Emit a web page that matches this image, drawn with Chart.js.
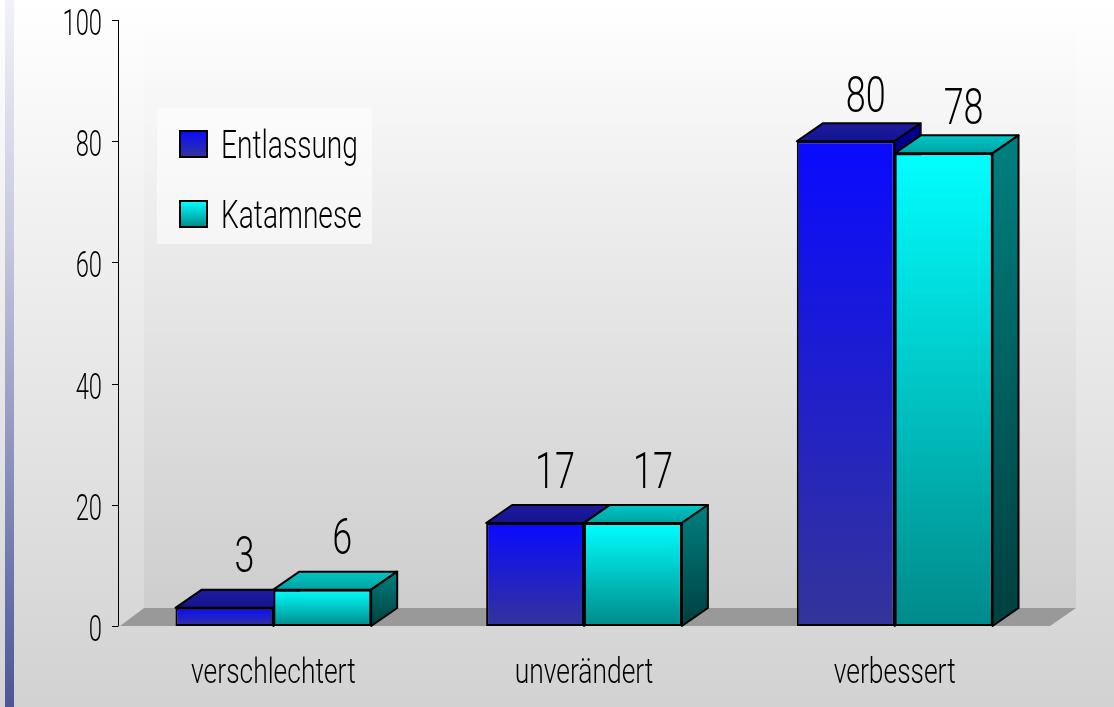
<!DOCTYPE html>
<html>
<head>
<meta charset="utf-8">
<script src="https://cdn.jsdelivr.net/npm/chart.js@4.4.1/dist/chart.umd.min.js"></script>
<style>
  html, body { margin: 0; padding: 0; background: #fff; }
  #chart { display: block; }
</style>
</head>
<body>
<canvas id="chart" width="1114" height="707"></canvas>
<script>
// Chart data
const categories = ['verschlechtert', 'unverändert', 'verbessert'];
const seriesNames = ['Entlassung', 'Katamnese'];
const entlassung = [3, 17, 80];
const katamnese = [6, 17, 78];
const yTicks = [0, 20, 40, 60, 80, 100];

// 3D depth offset of the boxes
const DX = 26, DY = -18;
const FONT = 'Roboto';

// colours per series: front top/bottom, top face, side top/bottom
const palette = [
    { front: ['#0a0aff', '#34349a'], top: ['#1c1c9e', '#141490'], side: ['#00008c', '#000060'] },
    { front: ['#00ffff', '#008a8a'], top: ['#00c6c6', '#00a2a2'], side: ['#008080', '#003f3f'] }
];

// condensed text: the original uses a very narrow face
function drawText(ctx, s, x, y, size, align, sx) {
    ctx.save();
    ctx.font = '300 ' + size + 'px ' + FONT;
    ctx.translate(x, y);
    ctx.scale(sx, 1);
    ctx.textAlign = align;
    ctx.textBaseline = 'alphabetic';
    ctx.fillStyle = '#000';
    ctx.fillText(s, 0, 0);
    ctx.restore();
}

function poly(ctx, pts, fill) {
    ctx.beginPath();
    ctx.moveTo(pts[0][0], pts[0][1]);
    for (let i = 1; i < pts.length; i++) ctx.lineTo(pts[i][0], pts[i][1]);
    ctx.closePath();
    ctx.fillStyle = fill;
    ctx.fill();
}

function frontGradient(context) {
    const chart = context.chart;
    const p = palette[context.datasetIndex].front;
    if (!chart.chartArea) return p[0];
    const y = chart.scales.y;
    const top = y.getPixelForValue(context.raw);
    const base = y.getPixelForValue(0);
    const g = chart.ctx.createLinearGradient(0, top, 0, base);
    g.addColorStop(0, p[0]);
    g.addColorStop(1, p[1]);
    return g;
}

const chart3d = {
    id: 'chart3d',
    beforeDraw(chart) {
        const ctx = chart.ctx;
        const W = chart.width, H = chart.height;
        // page background
        let g = ctx.createLinearGradient(0, 0, 0, H);
        g.addColorStop(0, '#ffffff');
        g.addColorStop(1, '#d2d2d2');
        ctx.fillStyle = g;
        ctx.fillRect(0, 0, W, H);
        // left stripe
        g = ctx.createLinearGradient(0, 0, 0, H);
        g.addColorStop(0, '#f2f2f8');
        g.addColorStop(0.35, '#c4c6de');
        g.addColorStop(1, '#4a5696');
        ctx.fillStyle = g;
        ctx.fillRect(5, 0, 9, H);
    },
    beforeDatasetsDraw(chart) {
        const ctx = chart.ctx;
        const a = chart.chartArea;
        // back wall
        let g = ctx.createLinearGradient(0, a.top + DY, 0, a.bottom + DY);
        g.addColorStop(0, 'rgba(0,0,0,0)');
        g.addColorStop(1, 'rgba(0,0,0,0.05)');
        ctx.fillStyle = g;
        ctx.fillRect(a.left + DX, a.top + DY, a.right - a.left, a.bottom - a.top);
        // floor
        poly(ctx, [[a.left + 2, a.bottom], [a.right, a.bottom], [a.right + DX, a.bottom + DY], [a.left + DX, a.bottom + DY]], '#999999');

        // tops and sides of each box, fronts are drawn by Chart.js afterwards
        ctx.save();
        ctx.lineWidth = 2;
        ctx.lineJoin = 'round';
        ctx.strokeStyle = '#000';
        for (let j = 0; j < categories.length; j++) {
            for (let i = 0; i < chart.data.datasets.length; i++) {
                const bar = chart.getDatasetMeta(i).data[j];
                const p = palette[i];
                const l = bar.x - bar.width / 2, r = bar.x + bar.width / 2;
                const t = bar.y, b = bar.base;
                // top face
                let tg = ctx.createLinearGradient(0, t + DY, 0, t);
                tg.addColorStop(0, p.top[0]);
                tg.addColorStop(1, p.top[1]);
                poly(ctx, [[l, t], [r, t], [r + DX, t + DY], [l + DX, t + DY]], tg);
                ctx.stroke();
                // side face
                let sg = ctx.createLinearGradient(0, t + DY, 0, b);
                sg.addColorStop(0, p.side[0]);
                sg.addColorStop(1, p.side[1]);
                poly(ctx, [[r, t], [r + DX, t + DY], [r + DX, b + DY], [r, b]], sg);
                ctx.stroke();
            }
        }
        ctx.restore();
    },
    afterDraw(chart) {
        const ctx = chart.ctx;
        const a = chart.chartArea;
        const ys = chart.scales.y, xs = chart.scales.x;

        // y axis line and ticks
        ctx.save();
        ctx.strokeStyle = '#000';
        ctx.lineWidth = 1;
        ctx.beginPath();
        ctx.moveTo(a.left + 0.5, ys.getPixelForValue(100));
        ctx.lineTo(a.left + 0.5, ys.getPixelForValue(0));
        yTicks.forEach(v => {
            const py = Math.round(ys.getPixelForValue(v)) + 0.5;
            ctx.moveTo(a.left - 6, py);
            ctx.lineTo(a.left + 0.5, py);
        });
        ctx.stroke();
        ctx.restore();
        yTicks.forEach(v => {
            drawText(ctx, String(v), a.left - 16, ys.getPixelForValue(v) + 15, 36, 'right', 0.66);
        });

        // category labels
        categories.forEach((c, j) => {
            drawText(ctx, c, xs.getPixelForValue(j), 683, 35, 'center', 0.755);
        });

        // value labels, a little closer to the box for tall bars
        chart.data.datasets.forEach((ds, i) => {
            chart.getDatasetMeta(i).data.forEach((bar, j) => {
                const gap = 18 - 0.085 * ds.data[j];
                drawText(ctx, String(ds.data[j]), bar.x + DX / 2 + 7, bar.y + DY - gap, 50, 'center', 0.72);
            });
        });

        // legend
        ctx.fillStyle = 'rgba(255,255,255,0.55)';
        ctx.fillRect(157, 108, 215, 136);
        const rows = [144, 214];
        chart.data.datasets.forEach((ds, i) => {
            const cy = rows[i];
            const g = ctx.createLinearGradient(0, cy - 13, 0, cy + 13);
            g.addColorStop(0, palette[i].front[0]);
            g.addColorStop(1, palette[i].front[1]);
            ctx.fillStyle = g;
            ctx.fillRect(180, cy - 13, 27, 26);
            ctx.lineWidth = 2;
            ctx.strokeStyle = '#000';
            ctx.strokeRect(180, cy - 13, 27, 26);
            drawText(ctx, ds.label, 221, cy + 14, 38, 'left', 0.74);
        });
    }
};

new Chart(document.getElementById('chart'), {
    type: 'bar',
    data: {
        labels: categories,
        datasets: [
            { label: seriesNames[0], data: entlassung },
            { label: seriesNames[1], data: katamnese }
        ].map(ds => Object.assign(ds, {
            backgroundColor: frontGradient,
            borderColor: '#000',
            borderWidth: 2,
            borderSkipped: false,
            categoryPercentage: 0.63,
            barPercentage: 1
        }))
    },
    options: {
        responsive: false,
        animation: false,
        devicePixelRatio: 1,
        layout: { padding: { left: 118, right: 64, top: 20, bottom: 81 } },
        scales: {
            x: { display: false },
            y: { display: false, min: 0, max: 100 }
        },
        plugins: {
            legend: { display: false },
            tooltip: { enabled: false }
        }
    },
    plugins: [chart3d]
});
</script>
</body>
</html>
